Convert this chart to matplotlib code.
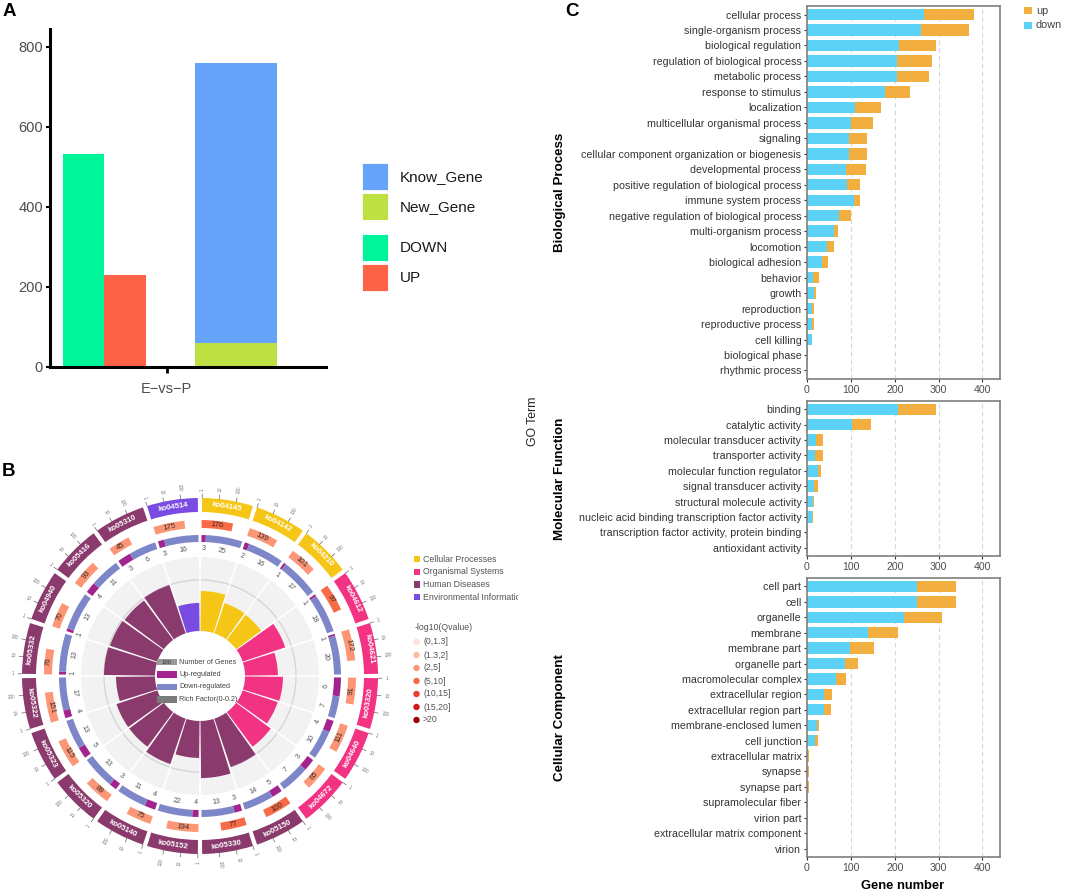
import numpy as np
import matplotlib
matplotlib.use('Agg')
import matplotlib.pyplot as plt
from matplotlib.patches import Wedge, Rectangle, Arc, Circle

plt.rcParams['font.family'] = ['Liberation Sans', 'DejaVu Sans']

# ---------------- data ----------------
# Panel A
deg_labels = ['DOWN', 'UP']
deg_counts = [532, 231]
gene_labels = ['New_Gene', 'Know_Gene']
gene_counts = [61, 699]

# Panel B (KEGG circle), clockwise from the top
ko_ids = ['ko04145', 'ko04142', 'ko04210', 'ko04612', 'ko04621', 'ko03320', 'ko04640',
          'ko04672', 'ko05150', 'ko05330', 'ko05152', 'ko05140', 'ko05320', 'ko05323',
          'ko05322', 'ko05332', 'ko04940', 'ko05416', 'ko05310', 'ko04514']
ko_class = ['Cellular Processes', 'Cellular Processes', 'Cellular Processes',
            'Organismal Systems', 'Organismal Systems', 'Organismal Systems',
            'Organismal Systems', 'Organismal Systems',
            'Human Diseases', 'Human Diseases', 'Human Diseases', 'Human Diseases',
            'Human Diseases', 'Human Diseases', 'Human Diseases', 'Human Diseases',
            'Human Diseases', 'Human Diseases', 'Human Diseases',
            'Environmental Information Processing']
ko_genes = [176, 139, 101, 97, 172, 91, 111, 65, 100, 77, 194, 75, 89, 115, 151, 76, 70, 93, 45, 175]
ko_up = [3, 2, 1, 1, 1, 6, 4, 3, 5, 3, 4, 4, 3, 5, 4, 1, 1, 4, 3, 3]
ko_down = [25, 16, 17, 18, 20, 7, 10, 7, 14, 13, 22, 11, 13, 13, 17, 13, 13, 11, 6, 16]
ko_qbin = [3, 2, 2, 3, 2, 2, 2, 2, 3, 3, 2, 2, 2, 2, 2, 2, 2, 2, 2, 2]
ko_rich = [0.157, 0.125, 0.122, 0.176, 0.129, 0.149, 0.145, 0.169, 0.200, 0.224,
           0.145, 0.188, 0.169, 0.169, 0.153, 0.200, 0.196, 0.192, 0.200, 0.110]

class_names = ['Cellular Processes', 'Organismal Systems', 'Human Diseases',
               'Environmental Information Processing']
class_colors = ['#F6C616', '#F23282', '#8B3A6D', '#7A4BE2']
q_labels = ['(0,1.3]', '(1.3,2]', '(2,5]', '(5,10]', '(10,15]', '(15,20]', '>20']
q_colors = ['#FDE0D6', '#FCBBA1', '#FC9676', '#F96B47', '#EF3B2C', '#CB181D', '#99000D']

# Panel C (GO)
bp_terms = ['cellular process', 'single-organism process', 'biological regulation',
            'regulation of biological process', 'metabolic process', 'response to stimulus',
            'localization', 'multicellular organismal process', 'signaling',
            'cellular component organization or biogenesis', 'developmental process',
            'positive regulation of biological process', 'immune system process',
            'negative regulation of biological process', 'multi-organism process',
            'locomotion', 'biological adhesion', 'behavior', 'growth', 'reproduction',
            'reproductive process', 'cell killing', 'biological phase', 'rhythmic process']
bp_down = [267, 259, 210, 205, 205, 177, 110, 101, 95, 95, 90, 92, 108, 73, 62, 46, 35, 14, 17, 11, 11, 11, 2, 0]
bp_up = [113, 111, 85, 80, 74, 58, 59, 49, 41, 41, 44, 29, 13, 28, 8, 15, 13, 13, 4, 6, 6, 0, 0, 1]

mf_terms = ['binding', 'catalytic activity', 'molecular transducer activity',
            'transporter activity', 'molecular function regulator',
            'signal transducer activity', 'structural molecule activity',
            'nucleic acid binding transcription factor activity',
            'transcription factor activity, protein binding', 'antioxidant activity']
mf_down = [208, 103, 20, 18, 24, 15, 14, 11, 1, 3]
mf_up = [85, 44, 16, 18, 9, 10, 3, 3, 1, 0]

cc_terms = ['cell part', 'cell', 'organelle', 'membrane', 'membrane part', 'organelle part',
            'macromolecular complex', 'extracellular region', 'extracellular region part',
            'membrane-enclosed lumen', 'cell junction', 'extracellular matrix', 'synapse',
            'synapse part', 'supramolecular fiber', 'virion part',
            'extracellular matrix component', 'virion']
cc_down = [250, 250, 222, 140, 98, 86, 67, 39, 38, 23, 18, 3, 1, 1, 2, 2, 1, 2]
cc_up = [89, 89, 86, 68, 55, 30, 22, 19, 17, 5, 6, 1, 4, 4, 0, 0, 0, 0]

# ---------------- figure ----------------
W, H = 1065, 893
fig = plt.figure(figsize=(W / 100, H / 100), dpi=100)


def frac(x0, y0, x1, y1):
    return [x0 / W, 1 - y1 / H, (x1 - x0) / W, (y1 - y0) / H]


# overlay in pixel coordinates, used for panel B and free text
ov = fig.add_axes([0, 0, 1, 1])
ov.set_xlim(0, W)
ov.set_ylim(H, 0)
ov.axis('off')

# ---------------- panel A ----------------
axA = fig.add_axes(frac(50, 29, 326, 367))
cols_deg = ['#00F59B', '#FF6347']
cols_gene = ['#BFE043', '#66A3FA']
deg_x = [33.5, 74.8]
for x, v, c in zip(deg_x, deg_counts, cols_deg):
    axA.bar(x, v, width=41.5, color=c)
bottom = 0
for v, c in zip(gene_counts, cols_gene):
    axA.bar(185.8, v, width=81.7, bottom=bottom, color=c)
    bottom += v
axA.set_xlim(0, 276)
axA.set_ylim(0, 845)
axA.set_yticks([0, 200, 400, 600, 800])
axA.set_xticks([116.7])
axA.set_xticklabels(['E\u2212vs\u2212P'])
for s in ['top', 'right']:
    axA.spines[s].set_visible(False)
for s in ['left', 'bottom']:
    axA.spines[s].set_linewidth(2.2)
axA.tick_params(labelsize=10.5, labelcolor='#4D4D4D', length=3, width=1.5, pad=2)
axA.tick_params(axis='x', length=4, width=2, pad=7)

leg_a = [('Know_Gene', cols_gene[1], 163), ('New_Gene', cols_gene[0], 193),
         ('DOWN', cols_deg[0], 234), ('UP', cols_deg[1], 264)]
for name, c, y in leg_a:
    ov.add_patch(Rectangle((362, y), 26, 27, facecolor=c, edgecolor='white', lw=0.6))
    ov.text(400, y + 14, name, fontsize=11, color='#1A1A1A', va='center', ha='left')

# ---------------- panel B ----------------
CX, CY = 200, 676
STEP = 360 / len(ko_ids)


def pol(r, phi):
    a = np.deg2rad(phi)
    return CX + r * np.sin(a), CY - r * np.cos(a)


def wedge(r0, r1, a0, a1, color, z=2):
    ov.add_patch(Wedge((CX, CY), r1, a0 - 90, a1 - 90, width=r1 - r0,
                       facecolor=color, edgecolor='none', zorder=z))


def tang_rot(phi):
    phi = phi % 360
    rot = -phi
    if 90 < phi < 270:
        rot += 180
    return rot


def rad_rot(phi):
    phi = phi % 360
    return 90 - phi if phi < 180 else 270 - phi


R_IN, R_REF, R_BG = 45, 96, 119
for i, ko in enumerate(ko_ids):
    a0 = i * STEP
    a1 = a0 + STEP
    am = (a0 + a1) / 2
    ccol = class_colors[class_names.index(ko_class[i])]

    # outer class band
    wedge(164, 178, a0 + 0.7, a1 - 0.7, ccol)
    x, y = pol(171, am)
    ov.text(x, y, ko, color='white', fontsize=5.6, fontweight='bold',
            rotation=tang_rot(am), ha='center', va='center', rotation_mode='anchor', zorder=5)
    # log scale ticks
    for k, lab in enumerate(['1', '10', '100']):
        ph = a0 + 0.7 + k * (STEP - 1.4) / 3
        xa, ya = pol(178, ph)
        xb, yb = pol(182, ph)
        ov.plot([xa, xb], [ya, yb], color='#666666', lw=0.5, zorder=3)
        xt, yt = pol(185 + 1.6 * len(lab), ph)
        ov.text(xt, yt, lab, fontsize=3.3, color='#777777', rotation=rad_rot(ph),
                ha='center', va='center', rotation_mode='anchor')

    # number of genes (log bar)
    span = STEP * np.log10(ko_genes[i]) / 3 - 1.8
    wedge(148, 156, a0 + 0.6, a0 + 0.6 + span, q_colors[ko_qbin[i]])
    pm = a0 + 0.6 + span / 2
    x, y = pol(152, pm)
    ov.text(x, y, str(ko_genes[i]), fontsize=5.6, color='#3A2A25',
            rotation=tang_rot(pm), ha='center', va='center', rotation_mode='anchor', zorder=5)

    # up / down ring
    tot = ko_up[i] + ko_down[i]
    usable = STEP - 1.2
    up_end = a0 + 0.6 + usable * ko_up[i] / tot
    wedge(134, 141, a0 + 0.6, up_end, '#A3238F')
    wedge(134, 141, up_end, a1 - 0.6, '#7D86C8')
    pu = (a0 + 0.6 + up_end) / 2
    pd = (up_end + a1 - 0.6) / 2
    for val, ph in [(ko_up[i], pu), (ko_down[i], pd)]:
        x, y = pol(127, ph)
        ov.text(x, y, str(val), fontsize=5.2, color='#555555', rotation=tang_rot(ph),
                ha='center', va='center', rotation_mode='anchor')

    # rich factor
    wedge(R_IN, R_BG, a0 + 0.45, a1 - 0.45, '#F2F2F2', z=1)
    ov.add_patch(Arc((CX, CY), 2 * R_REF, 2 * R_REF, theta1=a0 + 0.45 - 90,
                     theta2=a1 - 0.45 - 90, color='#D2D2D2', lw=0.9, zorder=1.5))
    r_top = R_IN + ko_rich[i] / 0.2 * (R_REF - R_IN)
    wedge(R_IN, r_top, a0 + 0.6, a1 - 0.6, ccol)

# centre legend
ctr = [('Number of Genes', '#9A9A9A'), ('Up-regulated', '#A3238F'),
       ('Down-regulated', '#7D86C8'), ('Rich Factor(0-0.2)', '#7A7A7A')]
for k, (lab, c) in enumerate(ctr):
    yy = 662 + k * 12.4
    ov.add_patch(Rectangle((157, yy - 3.3), 20, 6.6, facecolor=c, edgecolor='none', zorder=6))
    ov.text(179, yy, lab, fontsize=5.2, color='#444444', va='center', ha='left', zorder=6)
ov.text(167, 662, '100', fontsize=4.3, color='#333333', va='center', ha='center', zorder=7)

# class legend (last entry is cut off at the panel edge)
clip = Rectangle((400, 540), 118, 80, transform=ov.transData)
for k, (name, c) in enumerate(zip(class_names, class_colors)):
    yy = 559 + k * 12.7
    ov.add_patch(Rectangle((413.5, yy - 3.2), 6.4, 6.4, facecolor=c, edgecolor='none'))
    t = ov.text(423, yy, name, fontsize=6.3, color='#555555', va='center', ha='left')
    t.set_clip_on(True)
    t.set_clip_path(clip)
ov.text(415, 627, '-log10(Qvalue)', fontsize=6.3, color='#555555', va='center', ha='left')
for k, (lab, c) in enumerate(zip(q_labels, q_colors)):
    yy = 642 + k * 13
    ov.add_patch(Circle((416.5, yy), 3.2, facecolor=c, edgecolor='none'))
    ov.text(423, yy, lab, fontsize=6.3, color='#555555', va='center', ha='left')

# ---------------- panel C ----------------
C_DOWN = '#5CD3F6'
C_UP = '#F2AE3E'
go_panels = [(bp_terms, bp_down, bp_up, 6, 379, 'Biological Process'),
             (mf_terms, mf_down, mf_up, 401, 556, 'Molecular Function'),
             (cc_terms, cc_down, cc_up, 578, 857, 'Cellular Component')]
for terms, down, up, top, bot, title in go_panels:
    ax = fig.add_axes(frac(807, top, 1000, bot))
    y = np.arange(len(terms))
    ax.barh(y, down, height=0.74, color=C_DOWN, zorder=2)
    ax.barh(y, up, left=down, height=0.74, color=C_UP, zorder=2)
    ax.set_ylim(len(terms) - 0.45, -0.55)
    ax.set_xlim(0, 440)
    ax.set_yticks(y)
    ax.set_yticklabels(terms)
    ax.set_xticks([0, 100, 200, 300, 400])
    for g in [100, 200, 300, 400]:
        ax.axvline(g, color='#D6D6D6', lw=0.8, ls=(0, (4, 3)), zorder=1)
    for s in ax.spines.values():
        s.set_color('#7F7F7F')
        s.set_linewidth(1.2)
    ax.tick_params(axis='y', labelsize=7.7, labelcolor='#333333', length=2.5,
                   width=0.8, color='#333333', pad=1.5)
    ax.tick_params(axis='x', labelsize=7.6, labelcolor='#4D4D4D', length=2.5,
                   width=0.8, color='#333333', pad=2)
    ov.text(560, (top + bot) / 2, title, fontsize=9.6, fontweight='bold', rotation=90,
            ha='center', va='center', color='black')

ov.text(903, 886, 'Gene number', fontsize=9.3, fontweight='bold', ha='center', va='center')
ov.text(533, 421, 'GO Term', fontsize=8.8, rotation=90, ha='center', va='center', color='#222222')

for name, c, yy in [('up', C_UP, 10.5), ('down', C_DOWN, 25.5)]:
    ov.add_patch(Rectangle((1024, yy - 3.8), 7.6, 7.6, facecolor=c, edgecolor='none'))
    ov.text(1036, yy, name, fontsize=7.8, color='#444444', va='center', ha='left')

# panel letters
ov.text(3, 12, 'A', fontsize=13.5, fontweight='bold', va='center', ha='left')
ov.text(2, 471, 'B', fontsize=13.5, fontweight='bold', va='center', ha='left')
ov.text(565, 12, 'C', fontsize=13.5, fontweight='bold', va='center', ha='left')

fig.savefig('out.png', dpi=100)
